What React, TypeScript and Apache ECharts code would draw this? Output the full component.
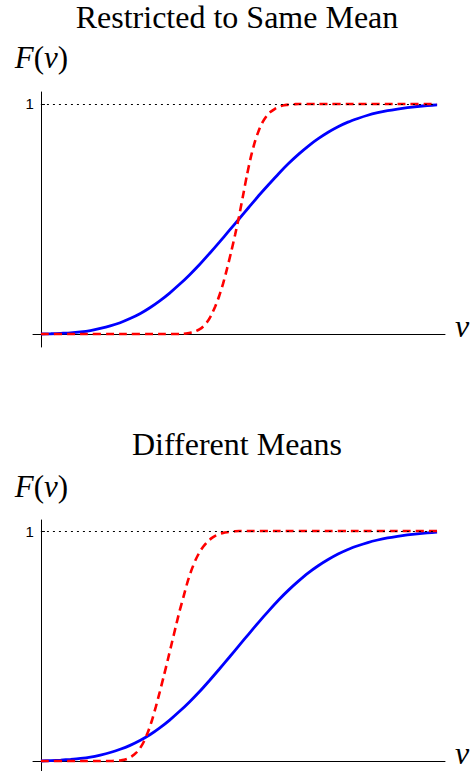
import React, { useEffect, useRef } from "react";
import * as echarts from "echarts";

// Blue curves: v sampled every 0.25 from 0 to 10
const BLUE_X = [
  0, 0.25, 0.5, 0.75, 1, 1.25, 1.5, 1.75, 2, 2.25, 2.5, 2.75, 3, 3.25, 3.5, 3.75, 4, 4.25, 4.5, 4.75,
  5, 5.25, 5.5, 5.75, 6, 6.25, 6.5, 6.75, 7, 7.25, 7.5, 7.75, 8, 8.25, 8.5, 8.75, 9, 9.25, 9.5, 9.75, 10,
];

// Panel 1: Restricted to Same Mean
const BLUE_SAME = [
  0, 0.001, 0.003, 0.005, 0.009, 0.015, 0.024, 0.035, 0.049, 0.067, 0.088, 0.114, 0.144, 0.178, 0.216, 0.257,
  0.301, 0.349, 0.398, 0.449, 0.5, 0.551, 0.602, 0.65, 0.697, 0.741, 0.781, 0.817, 0.849, 0.877, 0.901, 0.921,
  0.937, 0.951, 0.962, 0.971, 0.978, 0.984, 0.989, 0.993, 0.996,
];
const RED_X_SAME = [
  0, 1, 2, 3, 3.5, 3.6, 3.7, 3.8, 3.9, 4, 4.1, 4.2, 4.3, 4.4, 4.5, 4.6, 4.7, 4.8, 4.9, 5, 5.1, 5.2, 5.3, 5.4,
  5.5, 5.6, 5.7, 5.8, 5.9, 6, 6.1, 6.2, 6.3, 6.4, 6.5, 7, 8, 9, 10,
];
const RED_SAME = [
  0, 0, 0, 0, 0, 0.001, 0.003, 0.007, 0.012, 0.02, 0.033, 0.053, 0.082, 0.12, 0.165, 0.22, 0.285, 0.355, 0.43,
  0.51, 0.6, 0.69, 0.77, 0.835, 0.885, 0.922, 0.948, 0.966, 0.978, 0.987, 0.993, 0.996, 0.998, 0.999, 1, 1, 1, 1, 1,
];

// Panel 2: Different Means
const BLUE_DIFF = [
  0, 0.002, 0.004, 0.007, 0.011, 0.017, 0.026, 0.037, 0.051, 0.068, 0.089, 0.114, 0.144, 0.178, 0.216, 0.257,
  0.301, 0.349, 0.399, 0.45, 0.502, 0.553, 0.604, 0.653, 0.7, 0.743, 0.782, 0.818, 0.849, 0.876, 0.9, 0.92,
  0.936, 0.95, 0.961, 0.97, 0.977, 0.983, 0.988, 0.992, 0.995,
];
const RED_X_DIFF = [
  0, 1, 1.5, 1.8, 1.9, 2, 2.1, 2.2, 2.3, 2.4, 2.5, 2.6, 2.7, 2.8, 2.9, 3, 3.1, 3.2, 3.3, 3.4, 3.5, 3.6, 3.7,
  3.8, 3.9, 4, 4.1, 4.2, 4.3, 4.4, 4.5, 4.6, 4.7, 4.8, 4.9, 5, 6, 7, 8, 9, 10,
];
const RED_DIFF = [
  0, 0, 0, 0, 0.001, 0.002, 0.005, 0.011, 0.021, 0.035, 0.055, 0.085, 0.125, 0.175, 0.235, 0.3, 0.368, 0.438,
  0.51, 0.582, 0.652, 0.715, 0.778, 0.83, 0.873, 0.907, 0.933, 0.953, 0.968, 0.979, 0.987, 0.992, 0.995, 0.997,
  0.999, 1, 1, 1, 1, 1, 1,
];

const TITLES = ["Restricted to Same Mean", "Different Means"];
const Y_TICKS = [1];
const Y_TICK_LABEL = "1";
const Y_LABEL = "{i|F}{r|(}{i|v}{r|)}";
const X_LABEL = "v";

const SERIF = "Liberation Serif";

function pairs(xs: number[], ys: number[]) {
  return xs.map((x, i) => [x, ys[i]]);
}

export default function App() {
  const ref = useRef<HTMLDivElement>(null);

  useEffect(() => {
    if (!ref.current) return;
    const chart = echarts.init(ref.current, null, { renderer: "svg" });

    const grids = [
      { left: 33, top: 92, width: 412, height: 255 },
      { left: 33, top: 520, width: 412, height: 251 },
    ];
    const yRanges = [
      [-0.0565, 1.052],
      [-0.0435, 1.048],
    ];

    const xAxes = grids.map((_, i) => ({
      type: "value",
      gridIndex: i,
      min: -0.2,
      max: 10.2,
      axisLine: { show: true, onZero: true, lineStyle: { color: "#000", width: 1 } },
      axisTick: { show: false },
      axisLabel: { show: false },
      splitLine: { show: false },
    }));
    const yAxes = grids.map((_, i) => ({
      type: "value",
      gridIndex: i,
      min: yRanges[i][0],
      max: yRanges[i][1],
      axisLine: { show: true, onZero: true, lineStyle: { color: "#000", width: 1 } },
      axisTick: { show: true, inside: true, length: 4, customValues: Y_TICKS, lineStyle: { color: "#000" } },
      axisLabel: { show: false },
      splitLine: { show: false },
    }));

    // dotted guide at F = 1, carrying the "1" tick label at its left end
    const dotted = {
      silent: true,
      symbol: "none",
      label: {
        show: true,
        position: "start",
        distance: 7,
        formatter: Y_TICK_LABEL,
        color: "#000",
        fontSize: 15,
        fontFamily: "Liberation Sans",
      },
      lineStyle: { color: "#000", width: 1, type: [2, 4] },
      data: [[{ coord: [0, Y_TICKS[0]] }, { coord: [10, Y_TICKS[0]] }]],
    };

    const mkBlue = (i: number, ys: number[]) => ({
      type: "line",
      xAxisIndex: i,
      yAxisIndex: i,
      data: pairs(BLUE_X, ys),
      showSymbol: false,
      smooth: 0.2,
      lineStyle: { color: "#0000ff", width: 2.8 },
      markLine: dotted,
      z: 2,
    });
    const mkRed = (i: number, xs: number[], ys: number[]) => ({
      type: "line",
      xAxisIndex: i,
      yAxisIndex: i,
      data: pairs(xs, ys),
      showSymbol: false,
      smooth: 0.2,
      lineStyle: { color: "#ff0000", width: 2.6, type: [8, 5] },
      z: 3,
    });

    const titleStyle = { fontFamily: SERIF, fontSize: 32, fontWeight: "normal", color: "#000" };
    const rich = {
      i: { fontFamily: SERIF, fontStyle: "italic", fontSize: 31, fill: "#000", color: "#000" },
      r: { fontFamily: SERIF, fontStyle: "normal", fontSize: 31, fill: "#000", color: "#000" },
    };

    const labelTexts: any[] = [];
    [57, 486].forEach((y) => {
      labelTexts.push({
        type: "text",
        x: 41.5,
        y,
        style: {
          text: Y_LABEL,
          rich,
          align: "center",
          verticalAlign: "middle",
          textAlign: "center",
          textVerticalAlign: "middle",
          fill: "#000",
        },
      });
    });
    [326, 753].forEach((y) => {
      labelTexts.push({
        type: "text",
        x: 455,
        y,
        style: {
          text: X_LABEL,
          font: `italic 32px ${SERIF}`,
          align: "left",
          verticalAlign: "middle",
          textAlign: "left",
          textVerticalAlign: "middle",
          fill: "#000",
        },
      });
    });

    chart.setOption({
      animation: false,
      backgroundColor: "#fff",
      title: [
        { text: TITLES[0], left: "center", top: 1, padding: 0, textStyle: titleStyle },
        { text: TITLES[1], left: "center", top: 428, padding: 0, textStyle: titleStyle },
      ],
      grid: grids,
      xAxis: xAxes,
      yAxis: yAxes,
      series: [
        mkBlue(0, BLUE_SAME),
        mkRed(0, RED_X_SAME, RED_SAME),
        mkBlue(1, BLUE_DIFF),
        mkRed(1, RED_X_DIFF, RED_DIFF),
      ],
      graphic: labelTexts,
    });

    return () => chart.dispose();
  }, []);

  return (
    <div
      ref={ref}
      style={{ position: "absolute", left: 0, top: 0, width: 474, height: 771, background: "#fff" }}
    />
  );
}
